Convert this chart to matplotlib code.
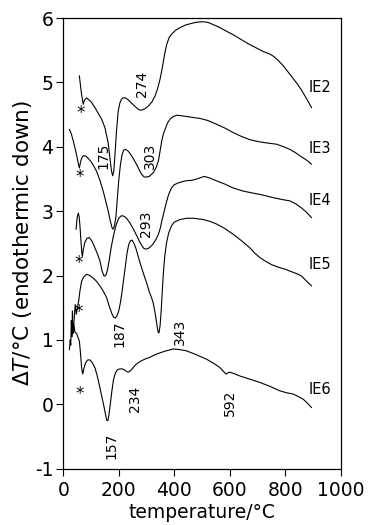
import numpy as np
import matplotlib
matplotlib.use("Agg")
import matplotlib.pyplot as plt

plt.rcParams['font.family'] = ['DejaVu Sans']
plt.rcParams['axes.unicode_minus'] = False
plt.rcParams['mathtext.fontset'] = 'dejavusans'

# DTA curves (temperature in degC, delta T in degC)
ie2_t = [58, 66, 72, 76, 84, 100, 114, 126, 138, 150, 162, 168, 174, 178, 182, 186, 192, 198,
         204, 210, 216, 224, 234, 246, 258, 268, 276, 284, 294, 306, 320, 331, 340, 349, 358,
         366, 373, 382, 391, 405, 421, 440, 457, 475, 493, 510, 523, 545, 565, 595, 613, 640,
         667, 694, 721, 745, 760, 775, 793, 811, 829, 845, 859, 877, 895]
ie2_dt = [5.10, 4.81, 4.66, 4.72, 4.76, 4.70, 4.61, 4.52, 4.43, 4.30, 4.06, 3.83, 3.62, 3.55,
          3.62, 3.85, 4.25, 4.55, 4.68, 4.74, 4.76, 4.76, 4.73, 4.68, 4.63, 4.59, 4.57, 4.57,
          4.59, 4.63, 4.70, 4.79, 4.90, 5.05, 5.25, 5.45, 5.59, 5.70, 5.75, 5.81, 5.85, 5.89,
          5.91, 5.93, 5.94, 5.94, 5.93, 5.89, 5.85, 5.78, 5.74, 5.67, 5.60, 5.54, 5.48, 5.44,
          5.40, 5.34, 5.26, 5.16, 5.06, 4.97, 4.88, 4.75, 4.61]

ie3_t = [22, 29, 36, 44, 50, 55, 58, 62, 66, 72, 80, 90, 100, 110, 120, 132, 144, 154, 162,
         170, 176, 180, 185, 190, 195, 200, 206, 212, 218, 224, 232, 240, 252, 265, 275, 283,
         292, 300, 310, 325, 335, 343, 349, 355, 361, 367, 376, 385, 397, 409, 430, 460, 493,
         520, 553, 583, 613, 643, 673, 703, 733, 769, 795, 817, 837, 853, 875, 895]
ie3_dt = [4.27, 4.20, 4.09, 3.95, 3.83, 3.72, 3.67, 3.76, 3.82, 3.86, 3.86, 3.82, 3.77, 3.70,
          3.62, 3.48, 3.31, 3.14, 3.00, 2.84, 2.74, 2.72, 2.78, 2.92, 3.20, 3.48, 3.72, 3.88,
          3.95, 3.96, 3.94, 3.90, 3.82, 3.72, 3.63, 3.57, 3.53, 3.53, 3.54, 3.60, 3.68, 3.78,
          3.93, 4.09, 4.20, 4.27, 4.37, 4.43, 4.47, 4.49, 4.48, 4.46, 4.44, 4.41, 4.35, 4.29,
          4.22, 4.16, 4.11, 4.08, 4.06, 4.04, 4.00, 3.96, 3.91, 3.86, 3.80, 3.73]

ie4_t = [46, 50, 54, 57, 60, 64, 67, 69, 72, 78, 86, 94, 104, 114, 124, 132, 140, 146, 150,
         155, 160, 166, 172, 180, 190, 200, 210, 220, 230, 240, 253, 266, 276, 284, 291, 298,
         310, 322, 334, 343, 350, 357, 364, 372, 380, 390, 400, 415, 440, 465, 481, 495, 508,
         525, 553, 583, 613, 650, 685, 720, 757, 790, 817, 840, 859, 878, 895]
ie4_dt = [2.72, 2.90, 2.97, 2.92, 2.78, 2.52, 2.35, 2.30, 2.40, 2.52, 2.58, 2.59, 2.53, 2.43,
          2.33, 2.23, 2.07, 2.00, 1.99, 2.02, 2.10, 2.25, 2.42, 2.60, 2.78, 2.89, 2.93, 2.92,
          2.88, 2.82, 2.72, 2.61, 2.52, 2.46, 2.42, 2.41, 2.43, 2.48, 2.56, 2.64, 2.74, 2.88,
          3.00, 3.14, 3.26, 3.36, 3.41, 3.44, 3.47, 3.48, 3.50, 3.52, 3.54, 3.52, 3.47, 3.42,
          3.36, 3.31, 3.28, 3.25, 3.21, 3.18, 3.16, 3.11, 3.05, 2.98, 2.90]

ie5_t = [38, 43, 47, 51, 56, 60, 66, 74, 84, 96, 108, 120, 132, 144, 156, 166, 176, 182, 187,
         193, 200, 206, 212, 218, 224, 230, 236, 242, 248, 255, 262, 270, 278, 290, 301, 310,
         318, 324, 331, 337, 342, 345, 349, 353, 357, 361, 366, 372, 380, 390, 400, 421, 445,
         469, 505, 530, 553, 583, 613, 643, 673, 690, 709, 730, 751, 775, 799, 823, 847, 860,
         871, 883, 895]
ie5_dt = [1.25, 1.55, 1.40, 1.50, 1.62, 1.76, 1.91, 1.98, 2.02, 2.00, 1.96, 1.91, 1.84, 1.76,
          1.66, 1.52, 1.40, 1.35, 1.34, 1.37, 1.45, 1.58, 1.75, 1.95, 2.15, 2.35, 2.48, 2.54,
          2.55, 2.50, 2.42, 2.30, 2.18, 2.02, 1.88, 1.75, 1.66, 1.58, 1.42, 1.25, 1.12, 1.11,
          1.22, 1.45, 1.75, 2.05, 2.30, 2.50, 2.66, 2.77, 2.83, 2.87, 2.89, 2.89, 2.87, 2.84,
          2.80, 2.73, 2.64, 2.54, 2.43, 2.35, 2.28, 2.22, 2.17, 2.13, 2.10, 2.06, 2.02, 1.99,
          1.94, 1.89, 1.84]

ie6_t = [22, 25, 27, 29, 31, 33, 35, 38, 42, 48, 58, 62, 66, 70, 74, 80, 88, 96, 104, 114,
         122, 132, 140, 146, 152, 157, 161, 165, 170, 175, 181, 188, 196, 204, 214, 222, 228,
         234, 242, 252, 262, 275, 293, 312, 330, 349, 370, 397, 420, 445, 480, 517, 545, 565,
         578, 587, 594, 601, 620, 637, 673, 709, 745, 781, 805, 829, 848, 865, 880, 895]
ie6_dt = [0.85, 1.00, 0.92, 1.30, 1.05, 1.45, 1.10, 1.25, 1.12, 1.10, 0.98, 0.80, 0.57, 0.47,
          0.55, 0.64, 0.69, 0.69, 0.65, 0.57, 0.45, 0.26, 0.10, -0.02, -0.15, -0.25, -0.25,
          -0.15, 0.02, 0.20, 0.38, 0.49, 0.54, 0.55, 0.55, 0.53, 0.51, 0.50, 0.52, 0.57, 0.62,
          0.66, 0.70, 0.73, 0.77, 0.80, 0.83, 0.86, 0.85, 0.83, 0.77, 0.70, 0.63, 0.57, 0.51,
          0.47, 0.49, 0.50, 0.47, 0.44, 0.39, 0.34, 0.28, 0.21, 0.18, 0.16, 0.12, 0.08, 0.02,
          -0.05]

names = ['IE2', 'IE3', 'IE4', 'IE5', 'IE6']
name_y = [4.92, 3.97, 3.17, 2.17, 0.23]

# peak temperatures written next to the curves
peak_text = ['274', '175', '303', '293', '187', '343', '234', '592', '157']
peak_x = [283, 144, 313, 300, 204, 421, 258, 601, 174]
peak_y = [4.97, 3.86, 3.86, 2.80, 1.10, 1.13, 0.08, 0.02, -0.65]

star_x = [64, 58, 54, 54, 60]
star_y = [4.52, 3.53, 2.19, 1.44, 0.16]

fig = plt.figure(figsize=(3.69, 5.25), dpi=100)
ax = fig.add_axes([0.1715, 0.1072, 0.7515, 0.8585])

curves = [(ie2_t, ie2_dt), (ie3_t, ie3_dt), (ie4_t, ie4_dt), (ie5_t, ie5_dt), (ie6_t, ie6_dt)]
for t, dt in curves:
    ax.plot(t, dt, color='black', lw=0.8)

for n, yy in zip(names, name_y):
    ax.text(925, yy, n, fontsize=10.5, ha='center', va='center')

for s, xx, yy in zip(peak_text, peak_x, peak_y):
    ax.text(xx, yy, s, fontsize=10, rotation=90, ha='center', va='center')

for xx, yy in zip(star_x, star_y):
    ax.text(xx, yy, '*', fontsize=12, ha='center', va='center')

ax.set_xlim(0, 1000)
ax.set_ylim(-1, 6)
ax.set_xticks([0, 200, 400, 600, 800, 1000])
ax.set_yticks(range(-1, 7))
ax.tick_params(direction='out', length=5, width=0.8, labelsize=13.5)
ax.tick_params(axis='y', pad=2)
ax.tick_params(axis='x', pad=4)
for sp in ax.spines.values():
    sp.set_linewidth(0.9)

ax.set_xlabel('temperature/°C', fontsize=13.5, labelpad=2)
ax.set_ylabel(r'$\Delta T$/°C (endothermic down)', fontsize=15.5, labelpad=1)

fig.savefig('out.png', dpi=100)
